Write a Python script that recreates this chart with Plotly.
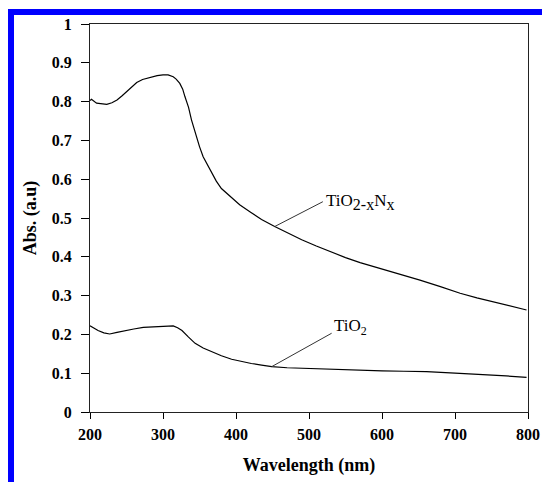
import plotly.graph_objects as go

# TiO2-xNx curve (wavelength nm, absorbance)
wl_n = [200, 202, 209, 216, 223, 230, 237, 244, 250, 257, 264, 272, 280, 285, 292, 300, 307, 314, 318, 323, 327, 330, 335, 339, 343, 346, 350, 355, 361, 367, 373, 380, 388, 396, 405, 420, 435, 453, 470, 490, 510, 529, 550, 570, 590, 611, 630, 652, 680, 707, 730, 750, 770, 785, 798]
abs_n = [0.803, 0.806, 0.796, 0.794, 0.793, 0.797, 0.804, 0.815, 0.826, 0.838, 0.849, 0.857, 0.861, 0.864, 0.867, 0.869, 0.869, 0.864, 0.858, 0.847, 0.832, 0.813, 0.785, 0.753, 0.727, 0.705, 0.684, 0.658, 0.636, 0.615, 0.595, 0.576, 0.563, 0.551, 0.534, 0.515, 0.496, 0.478, 0.462, 0.444, 0.428, 0.413, 0.398, 0.385, 0.374, 0.364, 0.353, 0.340, 0.323, 0.306, 0.294, 0.285, 0.276, 0.268, 0.263]

# TiO2 curve
wl_t = [200, 205, 211, 219, 227, 237, 248, 260, 273, 288, 303, 314, 320, 326, 335, 344, 355, 367, 380, 394, 408, 421, 435, 449, 470, 500, 524, 560, 600, 630, 661, 700, 740, 770, 798]
abs_t = [0.222, 0.216, 0.210, 0.204, 0.201, 0.205, 0.210, 0.214, 0.218, 0.220, 0.222, 0.222, 0.217, 0.210, 0.193, 0.177, 0.165, 0.155, 0.145, 0.136, 0.130, 0.125, 0.121, 0.117, 0.114, 0.112, 0.110, 0.108, 0.106, 0.105, 0.104, 0.100, 0.097, 0.093, 0.089]

x_ticks = [200, 300, 400, 500, 600, 700, 800]
y_ticks = [0, 0.1, 0.2, 0.3, 0.4, 0.5, 0.6, 0.7, 0.8, 0.9, 1]
y_tick_text = ["0", "0.1", "0.2", "0.3", "0.4", "0.5", "0.6", "0.7", "0.8", "0.9", "1"]

label_n = "TiO<sub><span style='font-size:16px'>2-x</span></sub>N<sub><span style='font-size:16px'>x</span></sub>"
label_t = "TiO<sub>2</sub>"
# leader lines: (point on curve) -> (label anchor)
lead_n = dict(x0=453, y0=0.478, x1=519, y1=0.542)
lead_t = dict(x0=449, y0=0.117, x1=531, y1=0.203)

fig = go.Figure()
fig.add_trace(go.Scatter(x=wl_n, y=abs_n, mode="lines",
                         line=dict(color="black", width=1.2), showlegend=False))
fig.add_trace(go.Scatter(x=wl_t, y=abs_t, mode="lines",
                         line=dict(color="black", width=1.2), showlegend=False))

serif = "Liberation Serif, Times New Roman, serif"

for ld in (lead_n, lead_t):
    fig.add_shape(type="line", xref="x", yref="y", line=dict(color="#333", width=1), **ld)

fig.add_annotation(x=lead_n["x1"], y=lead_n["y1"], xref="x", yref="y", text=label_n,
                   showarrow=False, xanchor="left", yanchor="middle", xshift=1,
                   font=dict(family=serif, size=17, color="black"))
fig.add_annotation(x=lead_t["x1"], y=lead_t["y1"], xref="x", yref="y", text=label_t,
                   showarrow=False, xanchor="left", yanchor="bottom", yshift=-7,
                   font=dict(family=serif, size=17, color="black"))

# blue frame (top and left), page pixels: left bar x 8-14, top bar y 9-15
fig.add_shape(type="rect", xref="paper", yref="paper", x0=-0.1872, x1=1.08,
              y0=1.0232, y1=1.0387, fillcolor="#0000ff", line=dict(width=0), layer="above")
fig.add_shape(type="rect", xref="paper", yref="paper", x0=-0.1872, x1=-0.1735,
              y0=-0.2, y1=1.0387, fillcolor="#0000ff", line=dict(width=0), layer="above")

fig.update_layout(
    width=542, height=482,
    margin=dict(l=90, r=14, t=24, b=70, autoexpand=False),
    paper_bgcolor="white", plot_bgcolor="white",
    font=dict(family=serif, color="black"),
)
fig.update_xaxes(range=[200, 800], tickvals=x_ticks, ticks="outside", ticklen=6,
                 tickcolor="black", showline=True, linecolor="#222", linewidth=1, mirror=True,
                 showgrid=False, zeroline=False, automargin=False, ticklabelstandoff=2,
                 tickfont=dict(family=serif, size=16, color="black", weight="bold"),
                 title=dict(text="<b>Wavelength (nm)</b>", font=dict(family=serif, size=18), standoff=16))
fig.update_yaxes(range=[0, 1], tickvals=y_ticks, ticktext=y_tick_text, ticks="outside", ticklen=8,
                 tickcolor="black", showline=True, linecolor="#222", linewidth=1, mirror=True,
                 showgrid=False, zeroline=False, automargin=False, ticklabelstandoff=6,
                 tickfont=dict(family=serif, size=16, color="black", weight="bold"),
                 title=dict(text="<b>Abs. (a.u)</b>", font=dict(family=serif, size=18), standoff=10))

fig.write_html("out.html", config={"displayModeBar": False},
               post_script="document.body.style.margin='0px';document.body.style.overflow='hidden';")
